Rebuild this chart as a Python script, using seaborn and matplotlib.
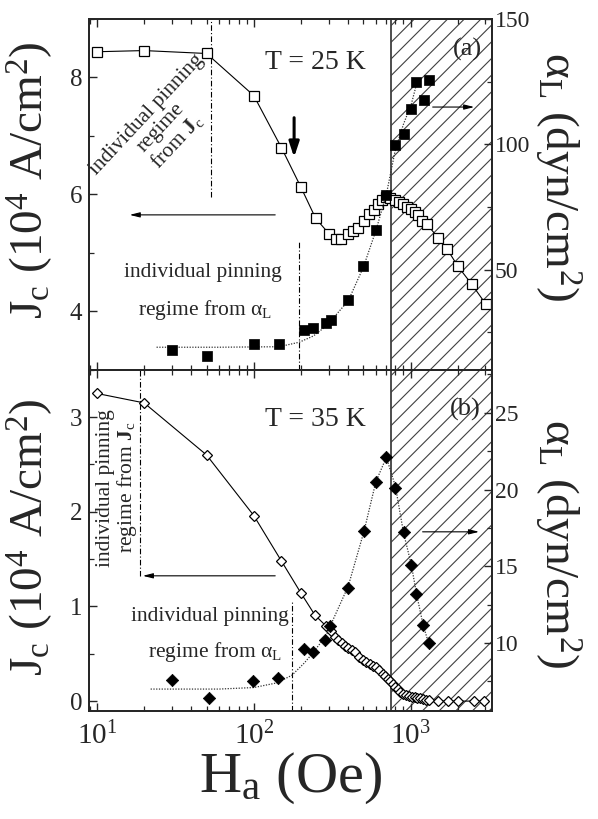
import numpy as np
import pandas as pd
import matplotlib
matplotlib.use("Agg")
import matplotlib.pyplot as plt
from matplotlib.ticker import LogLocator, MultipleLocator, NullFormatter, LogFormatterMathtext
import seaborn as sns

sns.set_style("ticks")
plt.rcParams["font.family"] = ["Liberation Serif", "DejaVu Serif"]
plt.rcParams["mathtext.fontset"] = "custom"
plt.rcParams["mathtext.rm"] = "Liberation Serif"
plt.rcParams["mathtext.it"] = "Liberation Serif:italic"
plt.rcParams["mathtext.bf"] = "Liberation Serif:bold"
plt.rcParams["hatch.linewidth"] = 0.8

# -------------------------------------------------------------------------
# data
# -------------------------------------------------------------------------
# (a) T = 25 K : Jc (open squares, left) / alpha_L (filled squares, right)
H_JC_A = [10, 20, 50, 100, 150, 200, 248, 301, 332, 362, 399, 429, 462, 502, 542,
          581, 619, 656, 700, 742, 791, 839, 894, 947, 1000, 1060, 1113, 1187, 1270,
          1494, 1703, 2001, 2456, 3004]
JC_A = [8.44, 8.46, 8.41, 7.69, 6.80, 6.12, 5.59, 5.33, 5.23, 5.23, 5.32, 5.38, 5.43,
        5.55, 5.67, 5.74, 5.84, 5.91, 5.95, 5.94, 5.91, 5.87, 5.84, 5.79, 5.75, 5.70,
        5.64, 5.55, 5.49, 5.26, 5.07, 4.77, 4.46, 4.13]
H_AL_A = [30, 50, 100, 145, 209, 239, 290, 309, 399, 497, 598, 693, 791, 902, 1010,
          1087, 1210, 1310]
AL_A = [17.7, 15.6, 20.2, 20.4, 25.9, 26.5, 28.5, 30.0, 38.0, 51.3, 65.8, 79.9, 99.7,
        104.2, 114.2, 124.7, 117.7, 125.7]
# dotted guide curve through alpha_L
H_FIT_A = [24, 60, 145, 195, 240, 290, 400, 500, 600, 700, 800, 900, 1010, 1090]
AL_FIT_A = [19.0, 19.0, 19.2, 21.0, 23.5, 27.5, 37.5, 51.0, 65.5, 80.0, 98.0, 108.0,
            116.0, 124.0]

# (b) T = 35 K : Jc (open diamonds, left) / alpha_L (filled diamonds, right)
H_JC_B = [10, 20, 50, 100, 150, 200, 245, 290, 312, 330, 345, 367, 380, 399, 420, 441,
          470, 495, 520, 549, 575, 603, 630, 664, 690, 712, 740, 770, 800, 827, 860,
          891, 930, 980, 1020, 1062, 1100, 1142, 1200, 1255, 1300, 1488, 1727, 2000,
          2520, 2950]
JC_B = [3.25, 3.15, 2.60, 1.96, 1.48, 1.14, 0.91, 0.79, 0.74, 0.68, 0.65, 0.61, 0.58,
        0.56, 0.54, 0.52, 0.47, 0.43, 0.41, 0.39, 0.37, 0.36, 0.33, 0.29, 0.26, 0.23,
        0.21, 0.18, 0.15, 0.13, 0.10, 0.07, 0.06, 0.05, 0.045, 0.04, 0.035, 0.03, 0.02,
        0.01, 0.01, 0.0, 0.0, 0.0, 0.0, 0.0]
H_AL_B = [30, 52, 99, 143, 208, 239, 284, 307, 399, 505, 598, 700, 798, 902, 1010,
          1087, 1200, 1303]
AL_B = [7.6, 6.4, 7.5, 7.7, 9.6, 9.4, 10.2, 11.1, 13.6, 17.3, 20.5, 22.1, 20.1, 17.2,
        15.1, 13.2, 11.2, 10.0]
H_FIT_B = [22, 60, 100, 140, 175, 210, 240, 290, 310, 400, 505, 600, 700, 800, 900,
           1010, 1090, 1200, 1300]
AL_FIT_B = [7.0, 7.0, 7.1, 7.4, 7.9, 8.7, 9.4, 10.5, 11.2, 13.7, 17.3, 20.5, 22.1,
            20.2, 17.2, 15.1, 13.2, 11.2, 10.0]

# regime boundaries / shaded region (Oe)
SHADE_START = 750
JC_REGIME = {"a": 53, "b": 18.8}
AL_REGIME = {"a": 193, "b": 175}

XLIM = (8.9, 3300)

# -------------------------------------------------------------------------
# figure
# -------------------------------------------------------------------------
fig = plt.figure(figsize=(5.98, 8.19), dpi=100)
gs = fig.add_gridspec(2, 1, left=0.1488, right=0.8227, top=0.9768, bottom=0.1324,
                      hspace=0, height_ratios=[351, 341])
ax_a = fig.add_subplot(gs[0])
ax_b = fig.add_subplot(gs[1], sharex=ax_a)
tw_a = ax_a.twinx()
tw_b = ax_b.twinx()

open_kw = dict(color="black", lw=0.8, markerfacecolor="white",
               markeredgecolor="black", markeredgewidth=0.9, estimator=None,
               sort=False, legend=False)

for ax, tw, hj, jc, ha, al, hf, af, mk, ms_o, ms_f in [
        (ax_a, tw_a, H_JC_A, JC_A, H_AL_A, AL_A, H_FIT_A, AL_FIT_A, "s", 7, 7),
        (ax_b, tw_b, H_JC_B, JC_B, H_AL_B, AL_B, H_FIT_B, AL_FIT_B, "D", 5, 6.3)]:
    ax.axvspan(SHADE_START, XLIM[1], facecolor="none", hatch="//",
               edgecolor="0.25", lw=1.3, zorder=0)
    df_jc = pd.DataFrame({"H": hj, "Jc": jc})
    sns.lineplot(data=df_jc, x="H", y="Jc", ax=ax, marker=mk, markersize=ms_o,
                 zorder=3, **open_kw)
    df_fit = pd.DataFrame({"H": hf, "al": af})
    sns.lineplot(data=df_fit, x="H", y="al", ax=tw, color="0.2", lw=0.9,
                 linestyle=(0, (1, 1.2)), estimator=None, sort=False, legend=False)
    df_al = pd.DataFrame({"H": ha, "al": al})
    sns.scatterplot(data=df_al, x="H", y="al", ax=tw, marker=mk, s=ms_f ** 2,
                    color="black", edgecolor="black", linewidth=0.5, legend=False,
                    zorder=4)

ax_a.set_xscale("log")
ax_a.set_xlim(*XLIM)
ax_a.set_ylim(3.0, 9.0)
tw_a.set_ylim(10, 150)
ax_b.set_ylim(-0.1, 3.5)
tw_b.set_ylim(5.6, 27.8)

ax_a.yaxis.set_major_locator(MultipleLocator(2))
ax_a.yaxis.set_minor_locator(MultipleLocator(1))
tw_a.yaxis.set_major_locator(MultipleLocator(50))
tw_a.yaxis.set_minor_locator(MultipleLocator(25))
ax_b.yaxis.set_major_locator(MultipleLocator(1))
ax_b.yaxis.set_minor_locator(MultipleLocator(0.5))
tw_b.yaxis.set_major_locator(MultipleLocator(5))
tw_b.yaxis.set_minor_locator(MultipleLocator(2.5))

for ax in (ax_a, ax_b):
    ax.xaxis.set_major_locator(LogLocator(base=10))
    ax.xaxis.set_minor_locator(LogLocator(base=10, subs=np.arange(2, 10)))
    ax.xaxis.set_minor_formatter(NullFormatter())
    ax.xaxis.set_major_formatter(LogFormatterMathtext())
    ax.tick_params(axis="x", which="both", direction="in", top=True, bottom=True)
    ax.tick_params(axis="y", which="both", direction="in", left=True, right=False,
                   labelsize=18, pad=5)
    ax.tick_params(which="major", length=6, width=1)
    ax.tick_params(which="minor", length=3.5, width=0.9)
    ax.set_xlabel("")
for tw in (tw_a, tw_b):
    tw.tick_params(axis="y", which="both", direction="in", right=True, left=False,
                   labelsize=17, pad=2)
    tw.tick_params(which="major", length=6, width=1)
    tw.tick_params(which="minor", length=3.5, width=0.9)
for a in (ax_a, ax_b, tw_a, tw_b):
    for sp in a.spines.values():
        sp.set_linewidth(1.3)
        sp.set_color("0.15")

ax_a.tick_params(axis="x", labelbottom=False)
ax_b.tick_params(axis="x", labelsize=21, pad=8)

# axis labels
jc_lab = "J$_\\mathregular{c}$ (10$^\\mathregular{4}$ A/cm$^\\mathregular{2}$)"
al_lab = "\u03b1$_\\mathregular{L}$ (dyn/cm$^\\mathregular{2}$)"
for ax, tw, yc, yr in [(ax_a, tw_a, 0.54, 0.55), (ax_b, tw_b, 0.51, 0.49)]:
    ax.set_ylabel(jc_lab, fontsize=34)
    ax.yaxis.set_label_coords(-0.085, yc)
    tw.set_ylabel(al_lab, fontsize=34, rotation=270, va="bottom")
    tw.yaxis.set_label_coords(1.10, yr)
ax_b.set_xlabel("H$_\\mathregular{a}$ (Oe)", fontsize=42, labelpad=0)

# annotations
txt_kw = dict(fontsize=15.5, ha="center", va="center")
arr_thin = dict(arrowstyle="-|>,head_length=0.6,head_width=0.15", color="black", lw=0.8)

ax_a.text(0.437, 0.875, "T = 25 K", transform=ax_a.transAxes, fontsize=20,
          ha="left", va="center")
ax_a.text(0.94, 0.912, "(a)", transform=ax_a.transAxes, fontsize=19,
          ha="center", va="center")
ax_a.text(0.182, 0.688, "individual pinning\nregime\nfrom $\\mathbf{J}_\\mathregular{c}$",
          transform=ax_a.transAxes, rotation=47, linespacing=1.0, **txt_kw)
ax_a.text(0.283, 0.276, "individual pinning", transform=ax_a.transAxes, **txt_kw)
ax_a.text(0.288, 0.171, "regime from \u03b1$_\\mathregular{L}$", transform=ax_a.transAxes,
          **txt_kw)
ax_a.axvline(JC_REGIME["a"], ymin=0.493, ymax=1, color="black", lw=0.8,
             linestyle=(0, (5, 2, 1, 2)))
ax_a.axvline(AL_REGIME["a"], ymin=0, ymax=0.3675, color="black", lw=0.8,
             linestyle=(0, (5, 2, 1, 2)))
ax_a.annotate("", xy=(0.094, 0.4416), xytext=(0.469, 0.4416), xycoords="axes fraction",
              arrowprops=arr_thin)
ax_a.annotate("", xy=(0.963, 0.749), xytext=(0.846, 0.749), xycoords="axes fraction",
              arrowprops=arr_thin)
ax_a.annotate("", xy=(0.509, 0.598), xytext=(0.509, 0.7265), xycoords="axes fraction",
              arrowprops=dict(arrowstyle="-|>,head_length=0.9,head_width=0.3",
                              color="black", lw=2.2))

ax_b.text(0.437, 0.853, "T = 35 K", transform=ax_b.transAxes, fontsize=20,
          ha="left", va="center")
ax_b.text(0.933, 0.883, "(b)", transform=ax_b.transAxes, fontsize=19,
          ha="center", va="center")
ax_b.text(0.072, 0.654, "individual pinning\nregime from $\\mathbf{J}_\\mathregular{c}$",
          transform=ax_b.transAxes, rotation=90, linespacing=1.0, **txt_kw)
ax_b.text(0.300, 0.275, "individual pinning", transform=ax_b.transAxes, **txt_kw)
ax_b.text(0.313, 0.172, "regime from \u03b1$_\\mathregular{L}$", transform=ax_b.transAxes,
          **txt_kw)
ax_b.axvline(JC_REGIME["b"], ymin=0.3954, ymax=1, color="black", lw=0.8,
             linestyle=(0, (5, 2, 1, 2)))
ax_b.axvline(AL_REGIME["b"], ymin=0, ymax=0.322, color="black", lw=0.8,
             linestyle=(0, (5, 2, 1, 2)))
ax_b.annotate("", xy=(0.1266, 0.3954), xytext=(0.469, 0.3954), xycoords="axes fraction",
              arrowprops=arr_thin)
ax_b.annotate("", xy=(0.975, 0.5245), xytext=(0.821, 0.5245), xycoords="axes fraction",
              arrowprops=arr_thin)

fig.savefig("out.png", dpi=100)
